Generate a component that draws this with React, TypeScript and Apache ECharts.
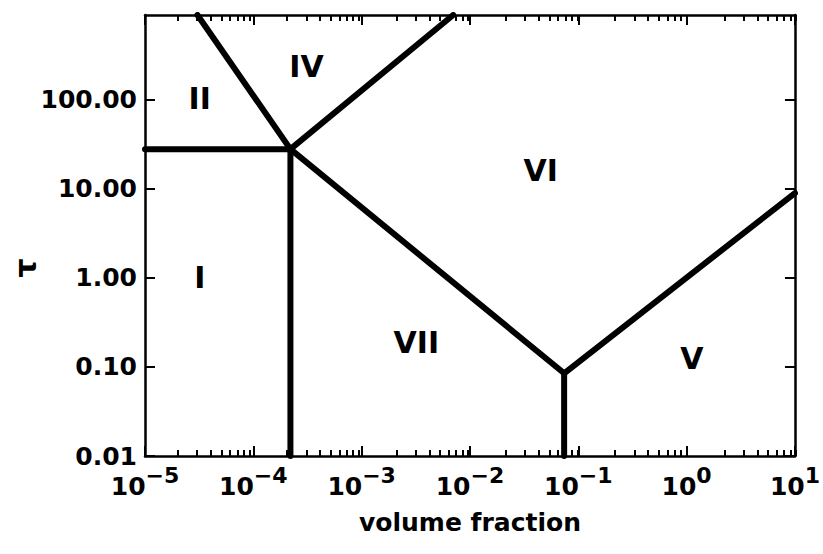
import React, { useEffect, useRef } from "react";
import * as echarts from "echarts";

// Regime boundaries in the (volume fraction, tau) plane
const boundaryI_II = [[1e-5, 28], [2.2e-4, 28]];
const boundaryII_IV = [[3.05e-5, 900], [2.2e-4, 28]];
const boundaryIV_VI = [[2.2e-4, 28], [7e-3, 900]];
const boundaryVI_VII = [[2.2e-4, 28], [0.074, 0.085]];
const boundaryV_VI = [[0.074, 0.085], [10, 9]];
const boundaryI_VII = [[2.2e-4, 28], [2.2e-4, 0.01]];
const boundaryV_VII = [[0.074, 0.085], [0.074, 0.01]];

// Regime names and where they sit
const regionNames = ["I", "II", "IV", "VI", "VII", "V"];
const regionX = [3.2e-5, 3.2e-5, 3.1e-4, 0.045, 3.2e-3, 1.12];
const regionY = [1.0, 105, 235, 16, 0.186, 0.126];

// Axis extents and ticks
const xMin = 1e-5;
const xMax = 10;
const yMin = 0.01;
const yMax = 900;
const xMajorTicks = [1e-5, 1e-4, 1e-3, 1e-2, 1e-1, 1, 10];
const xDecades = [1e-5, 1e-4, 1e-3, 1e-2, 1e-1, 1];
const minorMantissas = [2, 3, 4, 5, 6, 7, 8, 9];
const xMinorTicks = xDecades.flatMap((d) => minorMantissas.map((m) => m * d));
const yMajorTicks = [0.01, 0.1, 1, 10, 100];

const FONT = "DejaVu Sans";
const INK = "#000";
const GRID = { left: 145, right: 22, top: 15, bottom: 98, containLabel: false };

export default function App() {
  const ref = useRef<HTMLDivElement>(null);

  useEffect(() => {
    if (!ref.current) return;
    const chart = echarts.init(ref.current, undefined, { renderer: "svg" });

    const lineSeries = (data: number[][]) => ({
      type: "line",
      data,
      xAxisIndex: 0,
      yAxisIndex: 0,
      symbol: "none",
      clip: true,
      lineStyle: { color: INK, width: 6, cap: "round", join: "round" },
      z: 3,
    });

    const xAxisBase = {
      type: "log",
      logBase: 10,
      min: xMin,
      max: xMax,
      splitLine: { show: false },
      minorSplitLine: { show: false },
    };

    const yAxisBase = {
      type: "log",
      logBase: 10,
      min: yMin,
      max: yMax,
      splitLine: { show: false },
    };

    const tickStyle = (len: number, values: number[]) => ({
      show: true,
      inside: true,
      length: len,
      lineStyle: { color: INK, width: 2 },
      customValues: values,
    });

    chart.setOption({
      animation: false,
      backgroundColor: "#fff",
      grid: [GRID, GRID],
      xAxis: [
        {
          ...xAxisBase,
          gridIndex: 0,
          position: "bottom",
          axisLine: { show: true, lineStyle: { color: INK, width: 2.5 } },
          axisTick: tickStyle(10, xMajorTicks),
          axisLabel: {
            show: true,
            margin: 8,
            customValues: xMajorTicks,
            formatter: (v: number) => {
              const e = Math.round(Math.log10(v));
              return `{b|10}{s|${e < 0 ? "\u2212" : ""}${Math.abs(e)}}`;
            },
            rich: {
              b: {
                fontFamily: FONT,
                fontWeight: "bold",
                fontSize: 25,
                color: INK,
                lineHeight: 44,
                verticalAlign: "middle",
              },
              s: {
                fontFamily: FONT,
                fontWeight: "bold",
                fontSize: 22,
                color: INK,
                lineHeight: 20,
                verticalAlign: "top",
              },
            },
          },
          name: "volume fraction",
          nameLocation: "middle",
          nameGap: 54,
          nameTextStyle: {
            fontFamily: FONT,
            fontWeight: "bold",
            fontSize: 25,
            color: INK,
          },
        },
        {
          ...xAxisBase,
          gridIndex: 0,
          position: "top",
          axisLine: { show: true, lineStyle: { color: INK, width: 2.5 } },
          axisTick: tickStyle(10, xMajorTicks),
          axisLabel: { show: false },
        },
        {
          ...xAxisBase,
          gridIndex: 1,
          position: "bottom",
          axisLine: { show: false },
          axisTick: tickStyle(6, xMinorTicks),
          axisLabel: { show: false },
        },
        {
          ...xAxisBase,
          gridIndex: 1,
          position: "top",
          axisLine: { show: false },
          axisTick: tickStyle(6, xMinorTicks),
          axisLabel: { show: false },
        },
      ],
      yAxis: [
        {
          ...yAxisBase,
          gridIndex: 0,
          position: "left",
          axisLine: { show: true, lineStyle: { color: INK, width: 2.5 } },
          axisTick: tickStyle(10, yMajorTicks),
          axisLabel: {
            show: true,
            margin: 8,
            customValues: yMajorTicks,
            formatter: (v: number) => v.toFixed(2),
            fontFamily: FONT,
            fontWeight: "bold",
            fontSize: 25,
            color: INK,
          },
        },
        {
          ...yAxisBase,
          gridIndex: 0,
          position: "right",
          axisLine: { show: true, lineStyle: { color: INK, width: 2.5 } },
          axisTick: tickStyle(10, yMajorTicks),
          axisLabel: { show: false },
        },
        {
          ...yAxisBase,
          gridIndex: 1,
          show: false,
        },
      ],
      graphic: [
        {
          type: "text",
          x: 25,
          y: 268,
          rotation: Math.PI / 2,
          style: {
            text: "\u03c4",
            fontFamily: FONT,
            fontWeight: "bold",
            fontSize: 30,
            fill: INK,
            align: "center",
            verticalAlign: "middle",
          },
        },
      ],
      series: [
        lineSeries(boundaryI_II),
        lineSeries(boundaryII_IV),
        lineSeries(boundaryIV_VI),
        lineSeries(boundaryVI_VII),
        lineSeries(boundaryV_VI),
        lineSeries(boundaryI_VII),
        lineSeries(boundaryV_VII),
        {
          type: "scatter",
          xAxisIndex: 0,
          yAxisIndex: 0,
          symbolSize: 1,
          itemStyle: { color: "rgba(0,0,0,0)", opacity: 1 },
          data: regionNames.map((n, i) => ({ name: n, value: [regionX[i], regionY[i]] })),
          label: {
            show: true,
            position: "inside",
            formatter: (p: any) => p.name,
            fontFamily: FONT,
            fontWeight: "bold",
            fontSize: 30,
            color: INK,
          },
          z: 4,
        },
      ],
    });

    return () => chart.dispose();
  }, []);

  return <div ref={ref} style={{ width: 823, height: 554, position: "absolute", left: 0, top: 0 }} />;
}
